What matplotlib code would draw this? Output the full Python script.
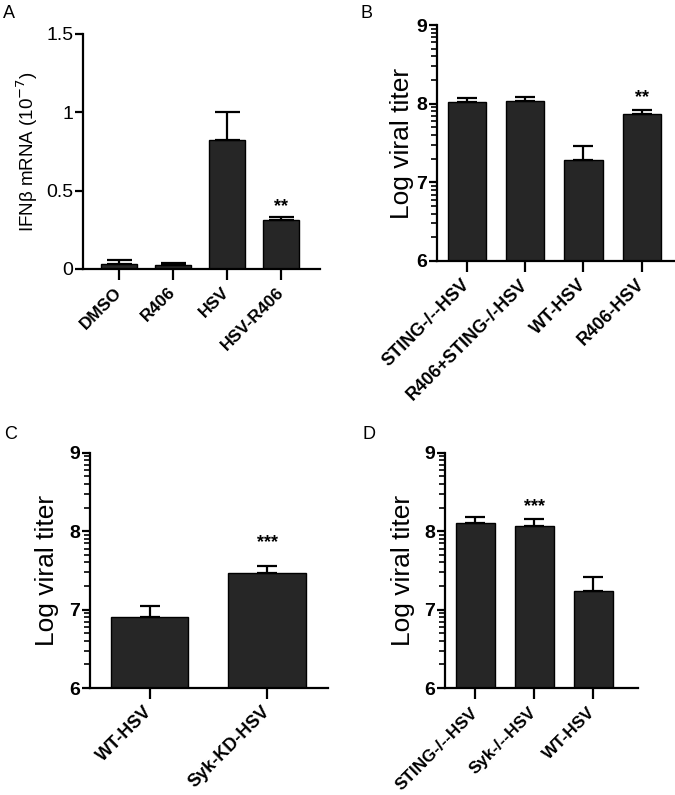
import numpy as np
import matplotlib
matplotlib.use("Agg")
import matplotlib.pyplot as plt

plt.rcParams['font.family'] = ['Liberation Sans', 'DejaVu Sans']

# ---- data ----
a_labels = ["DMSO", "R406", "HSV", "HSV-R406"]
a_values = [0.03, 0.023, 0.825, 0.313]
a_errors = [0.025, 0.015, 0.175, 0.02]
a_stars = ["", "", "", "**"]
a_yticks = [0, 0.5, 1, 1.5]
a_yticklabels = ["0", "0.5", "1", "1.5"]

b_labels = ["STING-/--HSV", "R406+STING-/-HSV", "WT-HSV", "R406-HSV"]
b_values = [8.02, 8.03, 7.29, 7.87]
b_errors = [0.05, 0.06, 0.17, 0.05]
b_stars = ["", "", "", "**"]

c_labels = ["WT-HSV", "Syk-KD-HSV"]
c_values = [6.91, 7.46]
c_errors = [0.13, 0.09]
c_stars = ["", "***"]

d_labels = ["STING-/--HSV", "Syk-/--HSV", "WT-HSV"]
d_values = [8.10, 8.06, 7.24]
d_errors = [0.08, 0.09, 0.18]
d_stars = ["", "***", ""]

titer_ticks = [6, 7, 8, 9]
titer_ticklabels = ["6", "7", "8", "9"]

W, H = 675, 795
fig = plt.figure(figsize=(W / 100, H / 100), dpi=100)

def px_axes(x0, x1, ytop, ybot):
    return fig.add_axes([x0 / W, 1 - ybot / H, (x1 - x0) / W, (ybot - ytop) / H])

BAR = "#262626"

def style(ax, labels, xlim, ylim, yticks, yticklabels, label, labx, ysize,
          tickbold, fs_x, fs_y, xpad=7):
    ax.set_xlim(*xlim)
    ax.set_ylim(*ylim)
    for s in ["top", "right"]:
        ax.spines[s].set_visible(False)
    for s in ["left", "bottom"]:
        ax.spines[s].set_linewidth(1.6)
    ax.set_xticks(range(len(labels)))
    ax.set_xticklabels(labels, rotation=45, ha="right", va="center",
                       rotation_mode="anchor", fontweight="bold", fontsize=fs_x)
    ax.tick_params(axis="x", length=8, width=1.6, pad=xpad)
    ax.set_yticks(yticks, labels=yticklabels,
                  fontweight="bold" if tickbold else "normal", fontsize=fs_y)
    ax.tick_params(axis="y", which="major", length=6, width=1.6, pad=1)
    ax.set_ylabel(label, fontsize=ysize)
    ax.yaxis.set_label_coords(labx, 0.5)

def bars(ax, vals, errs, stars, base, capsize, star_off):
    x = np.arange(len(vals))
    heights = np.array(vals) - base
    ax.bar(x, heights, bottom=base, width=0.66, color=BAR, edgecolor="black",
           linewidth=1.0, zorder=2)
    ax.errorbar(x, vals, yerr=[np.zeros(len(vals)), errs], fmt="none",
                ecolor="black", elinewidth=1.6, capsize=capsize, capthick=1.6,
                zorder=3)
    for xi, v, e, s in zip(x, vals, errs, stars):
        if s:
            ax.text(xi, v + e + star_off, s, ha="center", va="bottom",
                    fontsize=13, fontweight="bold")

def log_minor(ax, lo, hi):
    minors = []
    for base in range(lo, hi):
        for k in range(2, 10):
            minors.append(base + np.log10(k))
    ax.set_yticks(minors, minor=True)
    ax.tick_params(axis="y", which="minor", length=4, width=1.2)

# Panel A
axA = px_axes(83, 320, 34, 269)
bars(axA, a_values, a_errors, a_stars, 0, 9, 0.01)
style(axA, a_labels, (-0.67, 3.72), (0, 1.5), a_yticks, a_yticklabels,
      r"IFNβ mRNA (10$^{-7}$)", -0.18, 13.5, False, 12.5, 14)

# Panel B
axB = px_axes(437, 675, 25, 261)
bars(axB, b_values, b_errors, b_stars, 6, 7, 0.05)
log_minor(axB, 6, 9)
style(axB, b_labels, (-0.51, 3.57), (6, 9), titer_ticks, titer_ticklabels,
      "Log viral titer", -0.095, 19, True, 13, 14)

# Panel C
axC = px_axes(90, 328, 452.7, 688)
bars(axC, c_values, c_errors, c_stars, 6, 7, 0.2)
log_minor(axC, 6, 9)
style(axC, c_labels, (-0.51, 1.52), (6, 9), titer_ticks, titer_ticklabels,
      "Log viral titer", -0.13, 19, True, 13, 14)

# Panel D
axD = px_axes(445, 638, 452.7, 688)
bars(axD, d_values, d_errors, d_stars, 6, 7, 0.05)
log_minor(axD, 6, 9)
style(axD, d_labels, (-0.51, 2.76), (6, 9), titer_ticks, titer_ticklabels,
      "Log viral titer", -0.155, 19, True, 12.3, 14, xpad=8)

# Panel letters
for lab, xp, yp in [("A", 3, 5), ("B", 361, 5), ("C", 4, 426), ("D", 362, 426)]:
    fig.text(xp / W, 1 - yp / H, lab, fontsize=13, ha="left", va="top")

fig.savefig("out.png", dpi=100)
